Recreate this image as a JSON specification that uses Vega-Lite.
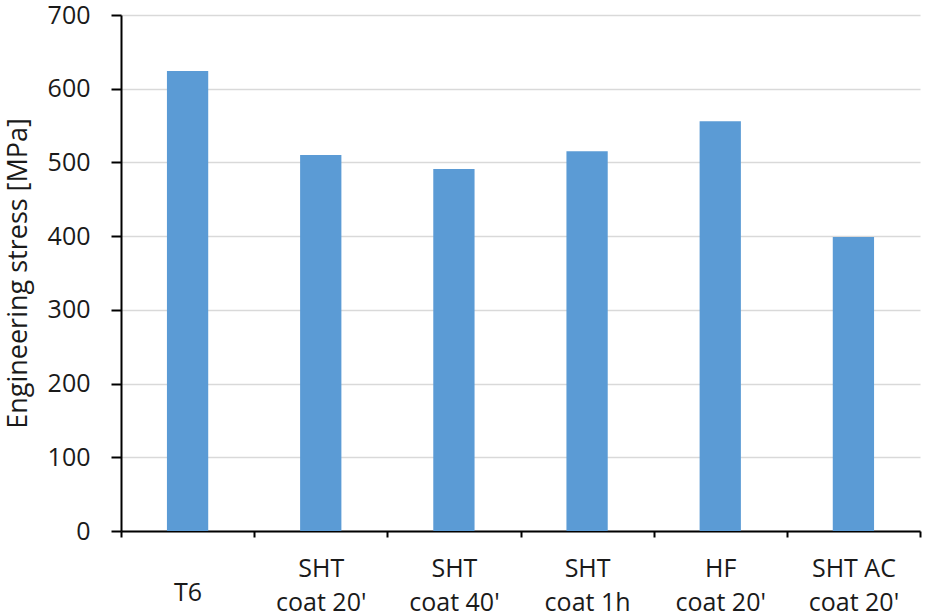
{
  "$schema": "https://vega.github.io/schema/vega-lite/v6.json",
  "width": 799,
  "height": 516,
  "autosize": {"type": "none"},
  "padding": {"left": 121, "top": 15, "right": 5, "bottom": 84},
  "background": "white",
  "config": {
    "view": {"stroke": null},
    "font": "Open Sans"
  },
  "data": {
    "values": [
      {"treatment": "T6", "stress": 624},
      {"treatment": "SHT\ncoat 20'", "stress": 510},
      {"treatment": "SHT\ncoat 40'", "stress": 491},
      {"treatment": "SHT\ncoat 1h", "stress": 515},
      {"treatment": "HF\ncoat 20'", "stress": 556},
      {"treatment": "SHT AC\ncoat 20'", "stress": 399}
    ]
  },
  "mark": {"type": "bar", "color": "#5B9BD5", "width": {"band": 0.31}},
  "encoding": {
    "x": {
      "field": "treatment",
      "type": "nominal",
      "sort": null,
      "scale": {"paddingInner": 0, "paddingOuter": 0},
      "axis": {
        "title": null,
        "labelAngle": 0,
        "labelExpr": "split(datum.label, '\\n')",
        "labelFont": "Open Sans",
        "labelFontSize": 25,
        "labelColor": "#1a1a1a",
        "labelLineHeight": 34,
        "labelBaseline": "top",
        "labelPadding": {"condition": {"test": "datum.value === 'T6'", "value": 43}, "value": 19},
        "tickBand": "extent",
        "tickColor": "#000000",
        "tickWidth": 2,
        "tickSize": 6,
        "domainColor": "#000000",
        "domainWidth": 2,
        "grid": false
      }
    },
    "y": {
      "field": "stress",
      "type": "quantitative",
      "scale": {"domain": [0, 700], "nice": false},
      "axis": {
        "title": "Engineering stress [MPa]",
        "titleFont": "Open Sans",
        "titleFontSize": 27,
        "titleFontWeight": "normal",
        "titleColor": "#1a1a1a",
        "titlePadding": 15,
        "values": [0, 100, 200, 300, 400, 500, 600, 700],
        "labelFont": "Open Sans",
        "labelFontSize": 25,
        "labelColor": "#1a1a1a",
        "labelPadding": 21,
        "tickColor": "#000000",
        "tickWidth": 2,
        "tickSize": 10,
        "domainColor": "#000000",
        "domainWidth": 2,
        "grid": true,
        "gridColor": "#d9d9d9",
        "gridWidth": 1.5
      }
    }
  }
}
